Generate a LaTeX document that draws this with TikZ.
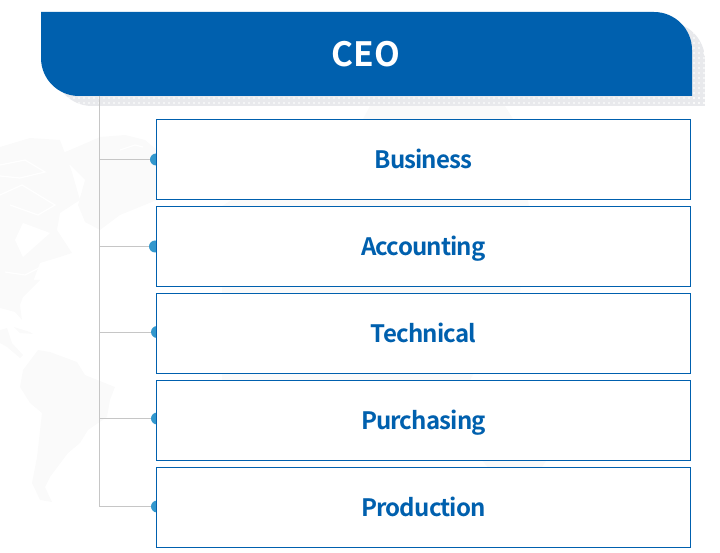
\documentclass[tikz,border=0pt]{standalone}
\usepackage{fontspec}
\newfontfamily\headfont{Noto Sans CJK KR Bold}
\newfontfamily\deptfont{Noto Sans CJK KR Bold}[LetterSpace=-3.5]
\definecolor{ceoblue}{HTML}{0060AE}
\definecolor{dotblue}{HTML}{3397CC}
\definecolor{trunkgray}{HTML}{C6C6C6}
\definecolor{mapgray}{HTML}{FAFAFA}
\definecolor{shadowgray}{HTML}{E8E9EC}
\tikzset{
  deptbox/.style={draw=ceoblue,line width=1pt,fill=white,minimum width=534pt,minimum height=80pt,inner sep=0pt,
    text=ceoblue,font=\deptfont\fontsize{24}{24}\selectfont,text height=22pt,text depth=3.5pt},
  deptdot/.style={circle,fill=dotblue,minimum size=12pt,inner sep=0pt},
  trunkline/.style={draw=trunkgray,line width=1pt},
  mapshape/.style={fill=mapgray,draw=none},
  mapcrack/.style={draw=white,line width=1.2pt}
}
\begin{document}
\begin{tikzpicture}[x=1pt,y=-1pt]
  \useasboundingbox (0,0) rectangle (720,553);

  % world map
  \fill[mapshape] (0,147) -- (30,138) -- (60,140) -- (72,172) -- (80,200) -- (60,213) -- (57,230) -- (72,253) -- (60,257) -- (40,263) -- (30,290) -- (17,300) -- (0,300) -- cycle;
  \fill[white] (23,223) -- (50,233) -- (23,257) -- (15,240) -- cycle;
  \draw[mapcrack] (0,165) -- (25,160) -- (45,172) -- (20,178) -- (0,176);
  \draw[mapcrack] (0,195) -- (22,185) -- (55,205) -- (38,215) -- (10,205);
  \draw[mapcrack] (45,265) -- (25,275) -- (5,272);
  \fill[mapshape] (100,137) -- (125,135) -- (145,140) -- (157,150) -- (157,200) -- (120,215) -- (100,230) -- (85,222) -- (78,205) -- (85,180) -- (70,165) -- (45,160) -- (70,150) -- cycle;
  \draw[mapcrack] (120,150) -- (135,145) -- (143,147);
  \fill[mapshape] (0,280) -- (40,280) -- (23,297) -- (20,305) -- (22,320) -- (15,312) -- (0,308) -- cycle;
  \fill[mapshape] (0,330) -- (7,328) -- (12,343) -- (23,355) -- (20,358) -- (7,347) -- (0,343) -- cycle;
  \fill[mapshape] (14,327) -- (30,332) -- (33,334) -- (20,333) -- cycle;
  \fill[mapshape] (38,350) -- (50,352) -- (77,362) -- (85,375) -- (115,387) -- (110,400) -- (107,417) -- (88,430) -- (80,443) -- (68,453) -- (50,477) -- (45,487) -- (52,502) -- (40,500) -- (32,483) -- (37,457) -- (42,413) -- (30,403) -- (20,387) -- (23,370) -- cycle;
  \fill[mapshape] (370,106) -- (505,106) -- (513,119) -- (529,206) -- (520,293) -- (470,380) -- (222,380) -- (222,206) -- (363,119) -- cycle;
  \fill[mapshape] (480,458) -- (548,458) -- (540,470) -- (490,470) -- cycle;

  % header shadow
  \begin{scope}
    \clip (54,22) [rounded corners=38pt] -- (705,22) [sharp corners] -- (705,106) [rounded corners=38pt] -- (54,106) [sharp corners] -- cycle;
    \fill[shadowgray] (54,22) rectangle (705,106);
    \foreach \i in {0,...,128}
      \foreach \j in {0,1}
        \fill[white,opacity=.55] (68+5*\i,97.5+5*\j) rectangle +(2,2);
    \foreach \i in {0,1,2}
      \foreach \j in {0,...,16}
        \fill[white,opacity=.55] (693+5*\i,22.5+5*\j) rectangle +(2,2);
  \end{scope}

  % header
  \fill[ceoblue] (41,12) [rounded corners=38pt] -- (692,12) [sharp corners] -- (692,96) [rounded corners=38pt] -- (41,96) [sharp corners] -- cycle;
  \node [text=white,font=\headfont\fontsize{33.5}{33.5}\selectfont,inner sep=0pt,text height=24.5pt,text depth=0pt] (ceo) at (366,54) {CEO};

  \coordinate (trunk) at (99.5,96);
  \node [deptdot] (dotA) at (156,159.5) {};
  \node [deptdot] (dotB) at (155,246.5) {};
  \node [deptdot] (dotC) at (157,332) {};
  \node [deptdot] (dotD) at (157,418.5) {};
  \node [deptdot] (dotE) at (157,506.5) {};
  \draw [trunkline] (trunk) |- (dotA);
  \draw [trunkline] (trunk) |- (dotB);
  \draw [trunkline] (trunk) |- (dotC);
  \draw [trunkline] (trunk) |- (dotD);
  \draw [trunkline] (trunk) |- (dotE);

  \node [deptbox] (business) at (423.5,159.5) {Business};
  \node [deptbox] (accounting) at (423.5,246.5) {Accounting};
  \node [deptbox] (technical) at (423.5,333.5) {Technical};
  \node [deptbox] (purchasing) at (423.5,420.5) {Purchasing};
  \node [deptbox] (production) at (423.5,507.5) {Production};
\end{tikzpicture}
\end{document}
